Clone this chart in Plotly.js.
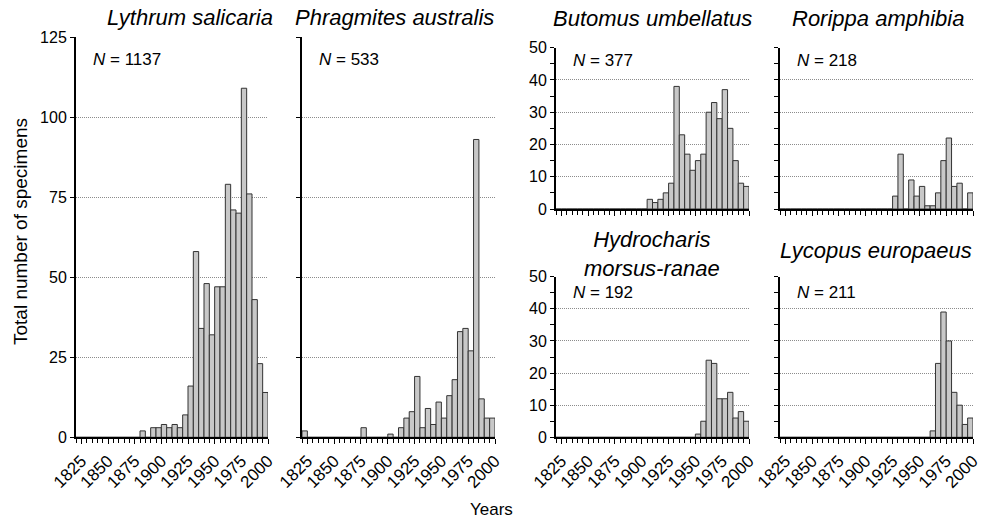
<!DOCTYPE html>
<html>
<head>
<meta charset="utf-8">
<script src="https://cdn.plot.ly/plotly-3.0.1.min.js"></script>
<style>
  html, body { margin: 0; padding: 0; background: #fff; }
  #chart { width: 983px; height: 522px; }
</style>
</head>
<body>
<div id="chart"></div>
<script>
// 5-year bins (start year of each bin)
const binStart = [1820, 1825, 1830, 1835, 1840, 1845, 1850, 1855, 1860, 1865, 1870, 1875,
                  1880, 1885, 1890, 1895, 1900, 1905, 1910, 1915, 1920, 1925, 1930, 1935,
                  1940, 1945, 1950, 1955, 1960, 1965, 1970, 1975, 1980, 1985, 1990, 1995];

const species = ["Lythrum salicaria", "Phragmites australis", "Butomus umbellatus",
                 "Rorippa amphibia", "Hydrocharis<br>morsus-ranae", "Lycopus europaeus"];
const totals = [1137, 533, 377, 218, 192, 211];

const lythrum     = [0,0,0,0,0,0,0,0,0,0,0,0, 2,0,3,3,4,3,4,3,7,16,58,34, 48,32,47,47,79,71,70,109,76,43,23,14];
const phragmites  = [2,0,0,0,0,0,0,0,0,0,0,3, 0,0,0,0,1,0,3,6,8,19,3,9, 4,11,6,13,18,33,34,27,93,12,6,6];
const butomus     = [0,0,0,0,0,0,0,0,0,0,0,0, 0,0,0,0,0,3,2,3,5,8,38,23, 17,12,15,17,30,33,28,37,25,15,8,7];
const rorippa     = [0,0,0,0,0,0,0,0,0,0,0,0, 0,0,0,0,0,0,0,0,0,4,17,0, 9,4,7,1,1,5,15,22,7,8,0,5];
const hydrocharis = [0,0,0,0,0,0,0,0,0,0,0,0, 0,0,0,0,0,0,0,0,0,0,0,0, 0,0,1,5,24,23,12,12,14,6,8,5];
const lycopus     = [0,0,0,0,0,0,0,0,0,0,0,0, 0,0,0,0,0,0,0,0,0,0,0,0, 0,0,0,0,2,23,39,30,14,10,4,6];

const seriesList = [lythrum, phragmites, butomus, rorippa, hydrocharis, lycopus];

const W = 983, H = 522;
const fx = v => v / W;
const fy = v => 1 - v / H;
const FONT = "Liberation Sans, Arial, Helvetica, sans-serif";

// panel pixel boxes [left, right, top, bottom]
const boxes = [
  [76, 268, 37, 437.3],
  [302, 495, 37, 437.3],
  [556, 749, 47.7, 209],
  [780, 973, 47.7, 209],
  [556, 749, 276.7, 437.3],
  [780, 973, 276.7, 437.3]
];

const traces = seriesList.map((s, i) => ({
  type: 'bar',
  x: binStart,
  y: s,
  width: 5,
  offset: 0,
  xaxis: 'x' + (i === 0 ? '' : i + 1),
  yaxis: 'y' + (i === 0 ? '' : i + 1),
  marker: { color: '#c8c8c8', line: { color: '#333333', width: 1 } },
  hoverinfo: 'skip',
  showlegend: false
}));

const layout = {
  width: W, height: H,
  margin: { l: 0, r: 0, t: 0, b: 0 },
  paper_bgcolor: '#fff', plot_bgcolor: '#fff',
  font: { family: FONT, color: '#000', size: 15 },
  showlegend: false,
  annotations: []
};

boxes.forEach((b, i) => {
  const sfx = i === 0 ? '' : String(i + 1);
  const big = i < 2;
  layout['xaxis' + sfx] = {
    domain: [fx(b[0]), fx(b[1])],
    anchor: 'y' + sfx,
    range: [1820, 2000],
    tickmode: 'linear', tick0: 1825, dtick: 25,
    ticks: 'outside', ticklen: 5, tickwidth: 1, tickcolor: '#000',
    minor: { tick0: 1820, dtick: 5, ticks: 'outside', ticklen: 4, tickwidth: 1, tickcolor: '#000', showgrid: false },
    showline: true, linewidth: 2, linecolor: '#000',
    showgrid: false, zeroline: false,
    tickangle: -45,
    showticklabels: !(i === 2 || i === 3),
    tickfont: { size: 17, family: FONT },
    fixedrange: true
  };
  const yax = {
    domain: [fy(b[3]), fy(b[2])],
    anchor: 'x' + sfx,
    range: big ? [0, 125] : [0, 50],
    tickmode: 'array',
    tickvals: big ? [0, 25, 50, 75, 100, 125] : [0, 10, 20, 30, 40, 50],
    ticks: 'outside', ticklen: 4, tickwidth: 1, tickcolor: '#000',
    showline: true, linewidth: 2, linecolor: '#000',
    showgrid: true, gridcolor: '#8c8c8c', gridwidth: 1, griddash: '1px,1px',
    zeroline: false,
    showticklabels: (i === 0 || i === 2 || i === 4),
    tickfont: { size: 16, family: FONT },
    fixedrange: true
  };
  if (!big) {
    yax.minor = { tick0: 0, dtick: 5, ticks: 'outside', ticklen: 4, tickwidth: 1, tickcolor: '#000', showgrid: false };
  }
  layout['yaxis' + sfx] = yax;

  // N label
  const nY = big ? b[2] + 23 : (i < 4 ? b[2] + 13 : b[2] + 16);
  layout.annotations.push({
    xref: 'paper', yref: 'paper',
    x: fx(b[0] + 15), y: fy(nY),
    xanchor: 'left', yanchor: 'middle',
    text: '<i>N</i> = ' + totals[i],
    showarrow: false,
    font: { size: 17, family: FONT }
  });
});

// Panel titles (pixel centre positions)
const titleX = [190, 394, 652, 878, 652, 876];
const titleY = [18, 18, 19, 19, 254, 250];
boxes.forEach((b, i) => {
  layout.annotations.push({
    xref: 'paper', yref: 'paper',
    x: fx(titleX[i]), y: fy(titleY[i]),
    xanchor: 'center', yanchor: 'middle',
    text: '<i>' + species[i].replace('<br>', '</i><br><i>') + '</i>',
    showarrow: false,
    font: { size: 22, family: FONT }
  });
});

// Axis titles
layout.annotations.push({
  xref: 'paper', yref: 'paper', x: fx(20), y: fy(232),
  xanchor: 'center', yanchor: 'middle', textangle: -90,
  text: 'Total number of specimens', showarrow: false,
  font: { size: 19, family: FONT }
});
layout.annotations.push({
  xref: 'paper', yref: 'paper', x: fx(491), y: fy(509),
  xanchor: 'center', yanchor: 'middle',
  text: 'Years', showarrow: false,
  font: { size: 17, family: FONT }
});

Plotly.newPlot('chart', traces, layout, { displayModeBar: false, staticPlot: true });
</script>
</body>
</html>
